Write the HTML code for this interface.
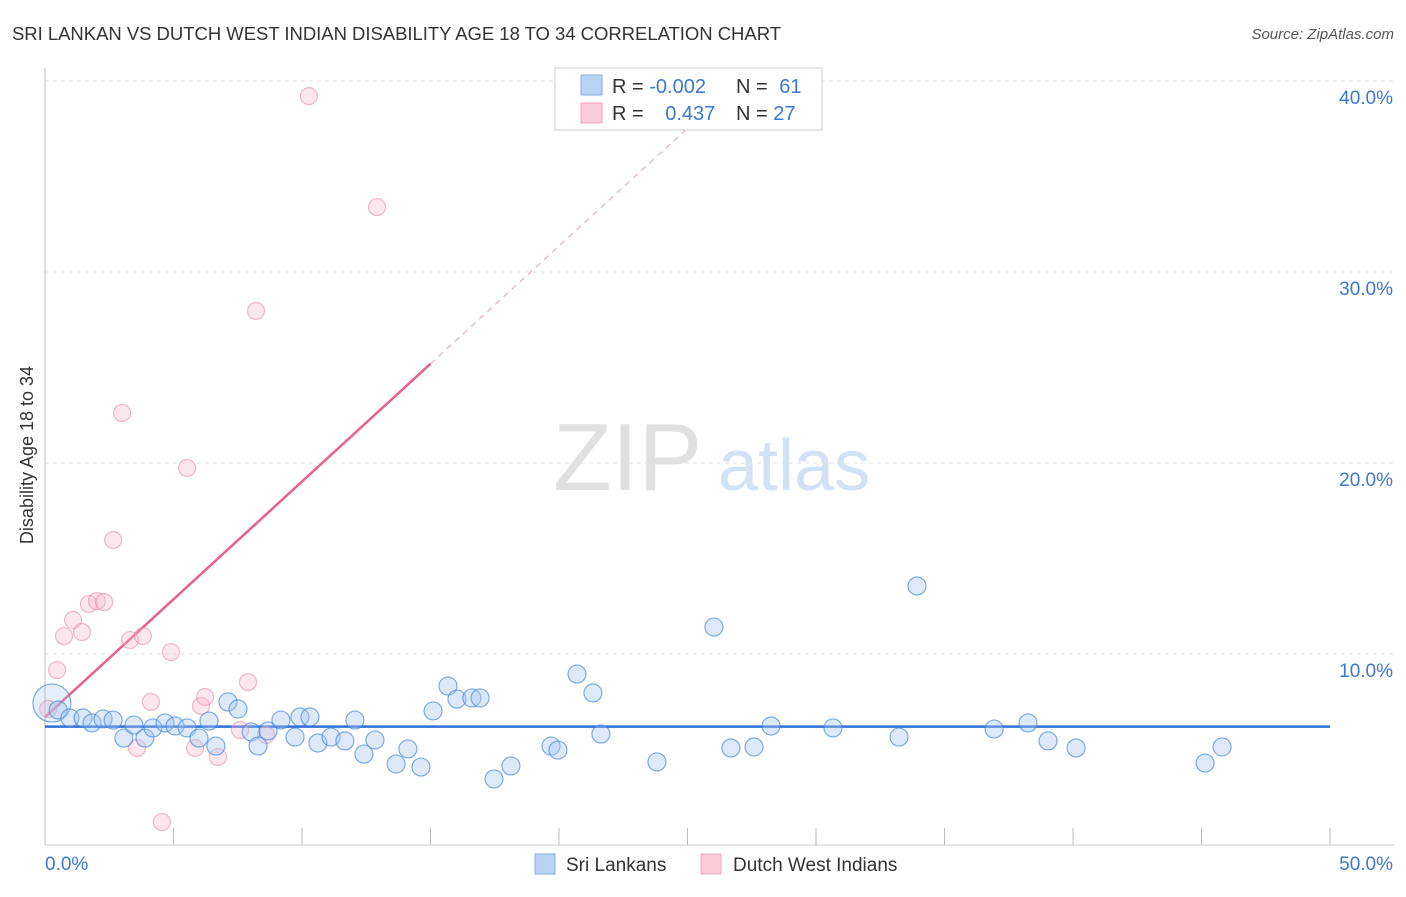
<!DOCTYPE html>
<html><head><meta charset="utf-8"><style>
body{margin:0;background:#fff;font-family:"Liberation Sans",sans-serif;}
svg text{font-family:"Liberation Sans",sans-serif;}
</style></head><body>
<svg id="chart" width="1406" height="892" viewBox="0 0 1406 892" xmlns="http://www.w3.org/2000/svg">
<text x="12" y="40" font-size="18.5" fill="#333" textLength="769">SRI LANKAN VS DUTCH WEST INDIAN DISABILITY AGE 18 TO 34 CORRELATION CHART</text>
<text x="1394" y="39" font-size="15" fill="#555" font-style="italic" text-anchor="end">Source: ZipAtlas.com</text>
<g>
<text x="553" y="490" font-size="96" fill="#e0e0e0" font-family="Liberation Serif, serif">ZIP</text>
<text x="718" y="490" font-size="72" fill="#d3e1f5">atlas</text>
</g>
<g id="grid"></g>
<g id="axes"></g>
<g id="trend"></g>
<g id="pts"></g>
<text x="33" y="455" font-size="18" fill="#333" text-anchor="middle" transform="rotate(-90 33 455)">Disability Age 18 to 34</text>
<g>
<rect x="555" y="68" width="267" height="62" fill="#fff" stroke="#ccc"/>
<rect x="581" y="75" width="21" height="20" fill="#b9d3f5" stroke="#86acdf"/>
<rect x="581" y="103" width="21" height="20" fill="#fbcbd9" stroke="#eea4bb"/>
<text x="612" y="93" font-size="20" fill="#333">R = <tspan fill="#3a78d4">-0.002</tspan></text>
<text x="736" y="93" font-size="20" fill="#333">N = <tspan fill="#3a78d4" dx="6">61</tspan></text>
<text x="612" y="120" font-size="20" fill="#333">R = <tspan fill="#3a78d4" dx="16">0.437</tspan></text>
<text x="736" y="120" font-size="20" fill="#333">N = <tspan fill="#3a78d4">27</tspan></text>
</g>
<g>
<rect x="535" y="854" width="20" height="20" fill="#b9d3f5" stroke="#86acdf"/>
<text x="566" y="871" font-size="19" fill="#333">Sri Lankans</text>
<rect x="701" y="854" width="20" height="20" fill="#fbcbd9" stroke="#eea4bb"/>
<text x="733" y="871" font-size="19" fill="#333">Dutch West Indians</text>
</g>
<text x="45" y="870" font-size="19" fill="#3a78d4">0.0%</text>
<text x="1393" y="870" font-size="19" fill="#3a78d4" text-anchor="end">50.0%</text>
</svg>
<script>
const yTicks=[10,20,30,40];
const yTickLabels=["10.0%","20.0%","30.0%","40.0%"];
const blueX=[0.27,0.51,0.97,1.48,1.83,2.26,2.65,3.07,3.46,3.89,4.20,4.67,5.06,5.53,5.99,6.38,6.65,7.12,7.51,8.02,8.29,8.68,9.18,9.73,9.92,10.31,10.62,11.13,11.67,12.06,12.41,12.84,13.66,14.12,14.63,15.10,15.68,16.03,16.61,16.93,17.47,18.13,19.69,19.96,20.70,21.32,21.63,23.81,26.03,26.69,27.59,28.25,30.66,33.23,33.93,36.93,38.25,39.03,40.12,45.14,45.80];
const blueY=[7.43,7.07,6.65,6.65,6.39,6.60,6.54,5.60,6.28,5.60,6.13,6.39,6.23,6.13,5.60,6.49,5.18,7.49,7.12,5.92,5.18,5.97,6.54,5.65,6.70,6.70,5.34,5.65,5.45,6.54,4.76,5.50,4.24,5.03,4.08,7.02,8.32,7.64,7.70,7.70,3.46,4.14,5.18,4.97,8.95,7.96,5.81,4.35,11.41,5.08,5.13,6.23,6.13,5.65,13.56,6.07,6.39,5.45,5.08,4.29,5.13];
const pinkX=[0.12,0.47,0.74,1.09,1.44,1.71,2.02,2.30,2.65,3.00,3.31,3.81,3.58,4.12,4.55,4.90,5.53,5.84,6.07,6.23,6.73,7.59,7.90,8.21,8.60,10.27,12.92];
const pinkY=[7.12,9.16,10.94,11.78,11.15,12.62,12.77,12.72,15.97,22.62,10.73,10.94,5.08,7.49,1.20,10.10,19.74,5.08,7.28,7.75,4.61,6.02,8.53,27.96,5.76,39.21,33.40];
const blueTrend=[6.2,6.2];
const pinkTrend=[6.7,1.233];
const NS="http://www.w3.org/2000/svg";
const X=v=>45+v*25.7, Y=v=>845-v*19.1;
function mk(tag,attrs,parent){const e=document.createElementNS(NS,tag);for(const k in attrs)e.setAttribute(k,attrs[k]);document.getElementById(parent).appendChild(e);return e;}
yTicks.forEach((t,i)=>{
 const l=mk('line',{x1:45,x2:1394,y1:Y(t),y2:Y(t),stroke:'#e2e2e2','stroke-dasharray':'4,4'},'grid');
 
 
 const tx=mk('text',{x:1393,y:Y(t)+23,'font-size':19,fill:'#3a78d4','text-anchor':'end'},'grid');
 tx.textContent=yTickLabels[i];
 
 
});
const ya=mk('line',{x1:45,x2:45,y1:68,y2:845,stroke:'#bbb'},'axes');


const xa=mk('line',{x1:45,x2:1394,y1:845,y2:845,stroke:'#ccc'},'axes');


for(let k=1;k<=10;k++){
 const t=mk('line',{x1:X(k*5),x2:X(k*5),y1:828,y2:845,stroke:'#bbb'},'axes');
 
 
}
const bt=mk('line',{x1:X(0),x2:X(50),y1:Y(blueTrend[0]),y2:Y(blueTrend[1]),stroke:'#2f6fd6','stroke-width':2.5},'trend');


const pt=mk('line',{x1:X(0),x2:X(15),y1:Y(pinkTrend[0]),y2:Y(pinkTrend[0]+pinkTrend[1]*15),stroke:'#e8608a','stroke-width':2.5},'trend');


const pd=mk('line',{x1:X(15),x2:X(27),y1:Y(pinkTrend[0]+pinkTrend[1]*15),y2:Y(pinkTrend[0]+pinkTrend[1]*27),stroke:'#e8a0b6','stroke-width':1,'stroke-dasharray':'6,5'},'trend');


pinkX.forEach((x,i)=>{
 const c=mk('circle',{cx:X(x),cy:Y(pinkY[i]),r:8.5,fill:'rgba(248,185,205,0.35)',stroke:'rgba(232,130,160,0.55)','stroke-width':1.2},'pts');
 
 
});
blueX.forEach((x,i)=>{
 const c=mk('circle',{cx:X(x),cy:Y(blueY[i]),r:i===0?19:9,fill:i===0?'rgba(170,200,240,0.3)':'rgba(165,198,240,0.38)',stroke:'rgba(60,130,220,0.65)','stroke-width':1.2},'pts');
 
 
});
</script>
</body></html>
